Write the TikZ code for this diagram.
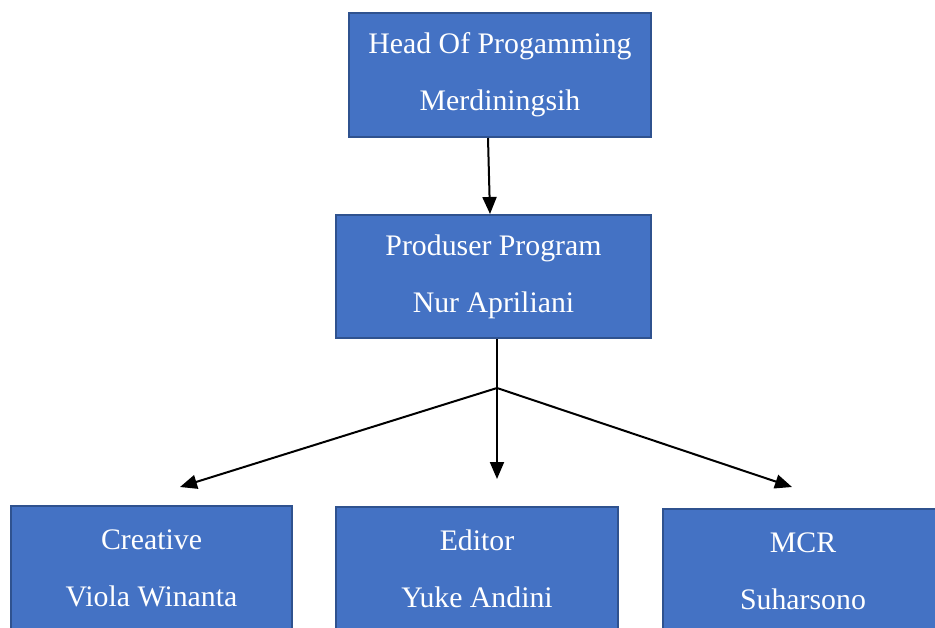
\documentclass[tikz,border=0pt]{standalone}
\usepackage{fontspec}
\setmainfont{Liberation Serif}
\usetikzlibrary{arrows.meta}
\definecolor{boxfill}{HTML}{4472C4}
\definecolor{boxline}{HTML}{2F528F}
\tikzset{
  orgbox/.style={draw=boxline, fill=boxfill, line width=2pt, text=white,
    align=center, inner sep=0pt, font=\fontsize{29.8}{57}\selectfont},
  conn/.style={line width=2pt, -{Triangle[length=17pt,width=14pt]}},
  plain/.style={line width=2pt}
}
\begin{document}
\begin{tikzpicture}[x=1pt,y=-1pt]
\clip (0,0) rectangle (935,627);
\node[orgbox, minimum width=302pt, minimum height=124pt] (head) at (500,75)
  {Head Of Progamming\\Merdiningsih};
\node[orgbox, minimum width=315pt, minimum height=123pt] (prod) at (493.5,276.5)
  {Produser Program\\Nur Apriliani};
\node[orgbox, minimum width=281pt, minimum height=124pt] (creative) at (151.5,568)
  {Creative\\Viola Winanta};
\node[orgbox, minimum width=282pt, minimum height=124pt] (editor) at (477,569)
  {Editor\\Yuke Andini};
\node[orgbox, minimum width=280pt, minimum height=124pt] (mcr) at (803,571)
  {MCR\\Suharsono};
\coordinate (split) at (497,388);
\coordinate (endL) at (180,487);
\coordinate (endM) at (497,479);
\coordinate (endR) at (792,487);
\draw[conn] ([xshift=-12pt]head.south) -- ([xshift=-3.5pt]prod.north);
\draw[plain] ([xshift=3.5pt]prod.south) -- (split);
\draw[conn] (split) -- (endL);
\draw[conn] (split) -- (endM);
\draw[conn] (split) -- (endR);
\end{tikzpicture}
\end{document}
